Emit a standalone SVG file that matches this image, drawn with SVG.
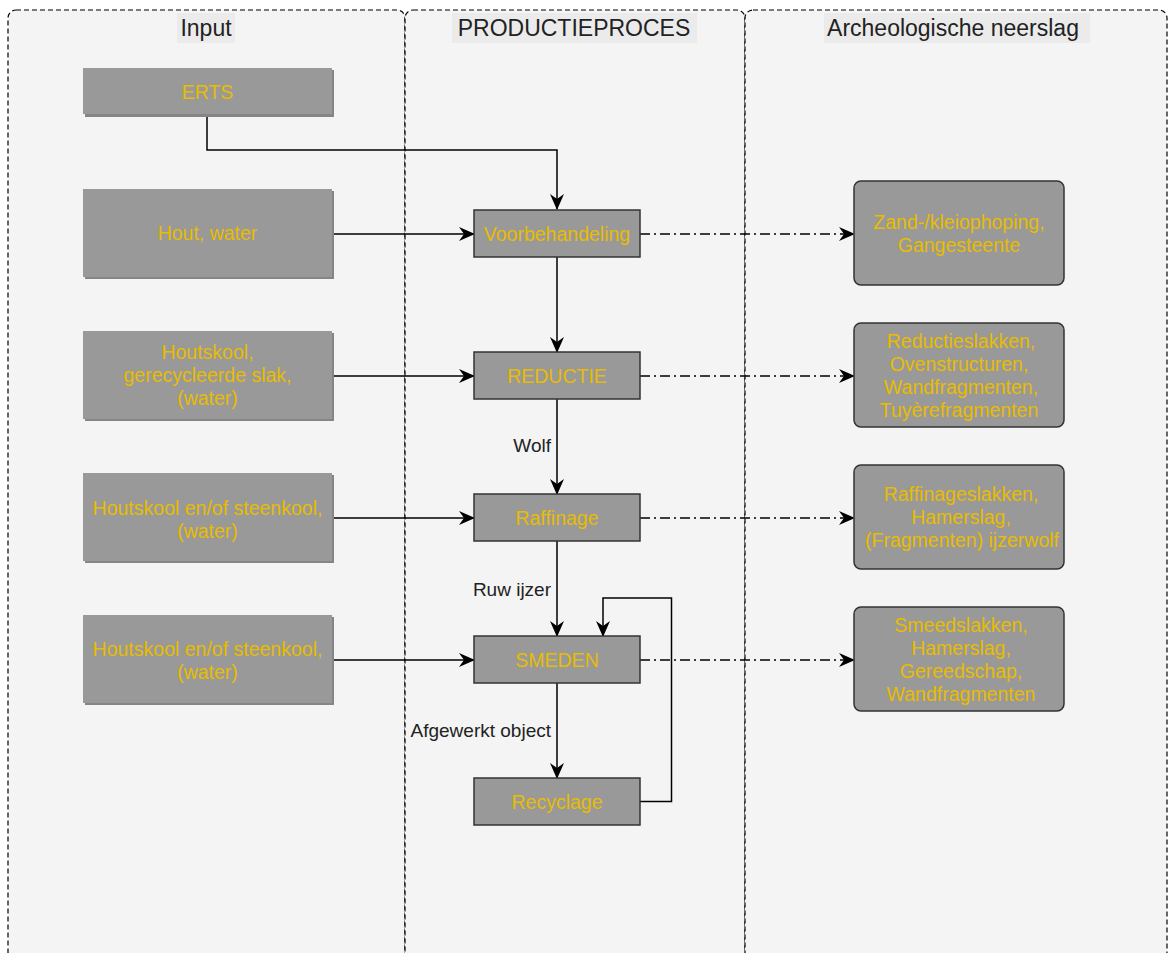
<svg xmlns="http://www.w3.org/2000/svg" width="1169" height="953" viewBox="0 0 1169 953">
<style>
.lane{fill:#f4f4f4;stroke:#000;stroke-width:1.2;stroke-dasharray:5 3}
.hbg{fill:#ebebeb}
.htxt{font-family:"Liberation Sans",Arial,sans-serif;font-size:23px;fill:#222;text-anchor:middle}
.inbox{fill:#999}
.shadow{fill:#858585}
.proc{fill:#999;stroke:#333;stroke-width:1.5}
.out{fill:#999;stroke:#333;stroke-width:1.5}
.ntxt{font-family:"Liberation Sans",Arial,sans-serif;font-size:19.5px;fill:#e8bc00;text-anchor:middle}
.lbl{font-family:"Liberation Sans",Arial,sans-serif;font-size:19px;fill:#222;text-anchor:end}
.edge{fill:none;stroke:#000;stroke-width:1.5}
.dd{fill:none;stroke:#000;stroke-width:1.5;stroke-dasharray:10 4 2 4}
</style>
<defs>
<marker id="arr" markerUnits="userSpaceOnUse" viewBox="0 0 16 14" refX="15" refY="7" markerWidth="16" markerHeight="14" orient="auto">
<path d="M0,0 L16,7 L0,14 L5,7 Z" fill="#000"/>
</marker>
</defs>
<rect width="1169" height="953" fill="#fff"/>
<g id="lanes">
<rect class="lane" x="8" y="10" width="397" height="1000" rx="8"/>
<rect class="lane" x="405" y="10" width="340" height="1000" rx="8"/>
<rect class="lane" x="745" y="10" width="422" height="1000" rx="8"/>
<rect class="hbg" x="177" y="13" width="58" height="30"/>
<text class="htxt" x="206" y="35.5">Input</text>
<rect class="hbg" x="452" y="13" width="245" height="30"/>
<text class="htxt" x="574" y="35.5">PRODUCTIEPROCES</text>
<rect class="hbg" x="824" y="13" width="266" height="30"/>
<text class="htxt" x="953" y="35.5">Archeologische neerslag</text>
</g>
<g id="connectors">
<polyline class="edge" points="207,115 207,150 557,150 557,209" marker-end="url(#arr)"/>
<line class="edge" x1="333" y1="234" x2="474" y2="234" marker-end="url(#arr)"/>
<line class="edge" x1="557" y1="257" x2="557" y2="352" marker-end="url(#arr)"/>
<line class="edge" x1="333" y1="376" x2="474" y2="376" marker-end="url(#arr)"/>
<line class="edge" x1="557" y1="399" x2="557" y2="494" marker-end="url(#arr)"/>
<line class="edge" x1="333" y1="518" x2="474" y2="518" marker-end="url(#arr)"/>
<line class="edge" x1="557" y1="541" x2="557" y2="636" marker-end="url(#arr)"/>
<line class="edge" x1="333" y1="660" x2="474" y2="660" marker-end="url(#arr)"/>
<line class="edge" x1="557" y1="683" x2="557" y2="778" marker-end="url(#arr)"/>
<polyline class="edge" points="640,801.5 671.5,801.5 671.5,598 603,598 603,636" marker-end="url(#arr)"/>
<line class="dd" x1="640" y1="234" x2="854" y2="234" marker-end="url(#arr)"/>
<line class="dd" x1="640" y1="376" x2="854" y2="376" marker-end="url(#arr)"/>
<line class="dd" x1="640" y1="518" x2="854" y2="518" marker-end="url(#arr)"/>
<line class="dd" x1="640" y1="660" x2="854" y2="660" marker-end="url(#arr)"/>
<text class="lbl" x="551" y="452">Wolf</text>
<text class="lbl" x="551" y="596">Ruw ijzer</text>
<text class="lbl" x="551" y="737">Afgewerkt object</text>
</g>
<g id="in-erts">
<rect class="shadow" x="85" y="70" width="249" height="47"/>
<rect class="inbox" x="83" y="68" width="249" height="46"/>
<text class="ntxt" x="207.5" y="98.5">ERTS</text>
</g>
<g id="in-hout">
<rect class="shadow" x="85" y="191" width="249" height="88"/>
<rect class="inbox" x="83" y="189" width="249" height="88"/>
<text class="ntxt" x="207.5" y="240">Hout, water</text>
</g>
<g id="in-houtskool1">
<rect class="shadow" x="85" y="333" width="249" height="88"/>
<rect class="inbox" x="83" y="331" width="249" height="88"/>
<text class="ntxt" x="207.5" y="359">Houtskool,</text>
<text class="ntxt" x="207.5" y="382">gerecycleerde slak,</text>
<text class="ntxt" x="207.5" y="405">(water)</text>
</g>
<g id="in-houtskool2">
<rect class="shadow" x="85" y="475" width="249" height="88"/>
<rect class="inbox" x="83" y="473" width="249" height="88"/>
<text class="ntxt" x="207.5" y="514.5">Houtskool en/of steenkool,</text>
<text class="ntxt" x="207.5" y="537.5">(water)</text>
</g>
<g id="in-houtskool3">
<rect class="shadow" x="85" y="617" width="249" height="88"/>
<rect class="inbox" x="83" y="615" width="249" height="88"/>
<text class="ntxt" x="207.5" y="655.5">Houtskool en/of steenkool,</text>
<text class="ntxt" x="207.5" y="678.5">(water)</text>
</g>
<g id="p-voorbehandeling">
<rect class="proc" x="474" y="210" width="166" height="47"/>
<text class="ntxt" x="557" y="240.5">Voorbehandeling</text>
</g>
<g id="p-reductie">
<rect class="proc" x="474" y="352" width="166" height="47"/>
<text class="ntxt" x="557" y="382.5">REDUCTIE</text>
</g>
<g id="p-raffinage">
<rect class="proc" x="474" y="494" width="166" height="47"/>
<text class="ntxt" x="557" y="525">Raffinage</text>
</g>
<g id="p-smeden">
<rect class="proc" x="474" y="636" width="166" height="47"/>
<text class="ntxt" x="557" y="666.5">SMEDEN</text>
</g>
<g id="p-recyclage">
<rect class="proc" x="474" y="778" width="166" height="47"/>
<text class="ntxt" x="557" y="808.5">Recyclage</text>
</g>
<g id="o-zand">
<rect class="out" x="854" y="181" width="210" height="104" rx="7"/>
<text class="ntxt" x="959" y="228.5">Zand-/kleiophoping,</text>
<text class="ntxt" x="959" y="251.5">Gangesteente</text>
</g>
<g id="o-reductie">
<rect class="out" x="854" y="323" width="210" height="104" rx="7"/>
<text class="ntxt" x="961" y="348">Reductieslakken,</text>
<text class="ntxt" x="959" y="371">Ovenstructuren,</text>
<text class="ntxt" x="961" y="394">Wandfragmenten,</text>
<text class="ntxt" x="959" y="417">Tuyèrefragmenten</text>
</g>
<g id="o-raffinage">
<rect class="out" x="854" y="465" width="210" height="104" rx="7"/>
<text class="ntxt" x="961" y="501">Raffinageslakken,</text>
<text class="ntxt" x="961" y="524">Hamerslag,</text>
<text class="ntxt" x="962" y="547">(Fragmenten) ijzerwolf</text>
</g>
<g id="o-smeden">
<rect class="out" x="854" y="607" width="210" height="104" rx="7"/>
<text class="ntxt" x="961" y="632">Smeedslakken,</text>
<text class="ntxt" x="961" y="655">Hamerslag,</text>
<text class="ntxt" x="961" y="678">Gereedschap,</text>
<text class="ntxt" x="961" y="701">Wandfragmenten</text>
</g>
</svg>
